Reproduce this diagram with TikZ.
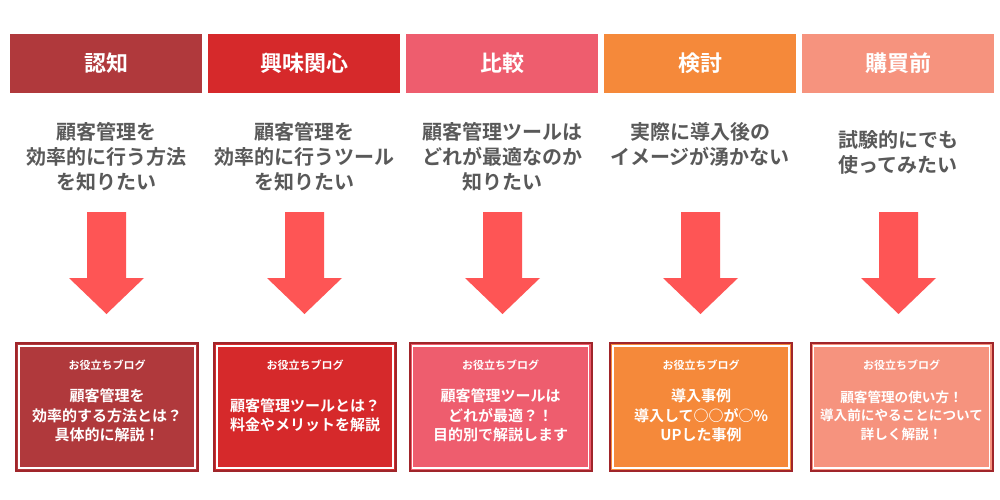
\documentclass[tikz,border=0pt]{standalone}
\usepackage{fontspec}
\setmainfont{Noto Sans CJK JP}[BoldFont={Noto Sans CJK JP Bold}]
\usepackage{xcolor}
\usepackage{tikz}
\definecolor{stageA}{HTML}{B0393C}
\definecolor{stageB}{HTML}{D6292B}
\definecolor{stageC}{HTML}{EE5D6E}
\definecolor{stageD}{HTML}{F5893A}
\definecolor{stageE}{HTML}{F6937E}
\definecolor{arrowred}{HTML}{FE5555}
\definecolor{askgray}{HTML}{595959}
\definecolor{boxedge}{HTML}{A0252A}

\begin{document}
\begin{tikzpicture}[x=1pt, y=-1pt, every node/.style={font=\bfseries, inner sep=0pt}, head/.style={minimum width=192, minimum height=59, text=white, font=\bfseries\fontsize{22}{26}\selectfont}, ask/.style={text=askgray, align=center, font=\bfseries\fontsize{20}{25}\selectfont}, blogbox/.style={draw=boxedge, line width=2pt, minimum width=182, minimum height=128}, blogtag/.style={text=white, font=\bfseries\fontsize{11}{13}\selectfont}, blogtitle/.style 2 args={text=white, align=center, font=\bfseries\fontsize{#1}{#2}\selectfont}]
  \path[use as bounding box, fill=white] (0,0) rectangle (1000,500);
  \foreach \i/\bx/\col/\head/\ask/\asky/\bs/\bl/\blog in {
      1/107/stageA/認知/{顧客管理を\\効率的に行う方法\\を知りたい}/157/15/19.5/{顧客管理を\\効率的する方法とは？\\具体的に解説！},
      2/305/stageB/興味関心/{顧客管理を\\効率的に行うツール\\を知りたい}/157/15/19.5/{顧客管理ツールとは？\\料金やメリットを解説},
      3/500.5/stageC/比較/{顧客管理ツールは\\どれが最適なのか\\知りたい}/157/15/19.5/{顧客管理ツールは\\どれが最適？！\\目的別で解説します},
      4/701/stageD/検討/{実際に導入後の\\イメージが湧かない}/144.5/15/19.5/{導入事例\\導入して○○が○\%\\UPした事例},
      5/901.5/stageE/購買前/{試験的にでも\\使ってみたい}/152.5/13.6/18.5/{顧客管理の使い方！\\導入前にやることについて\\詳しく解説！}}{
    \node[head, fill=\col] (h\i) at ({198*\i-92},63.5) {\head};
    \node[ask] (q\i) at ({198*\i-92},\asky) {\ask};
    % block arrow
    \coordinate (a\i) at ({198*\i-91.5},212);
    \fill[arrowred] (a\i) ++(-19.5,0) -- ++(39,0) -- ++(0,66) -- ++(18,0) -- ++(-37.5,36) -- ++(-37.5,-36) -- ++(18,0) -- cycle;
    \node[blogbox, fill=\col] (b\i) at (\bx,407) {};
    \draw[white, line width=1.5pt] ([shift={(4,4)}]b\i.north west) rectangle ([shift={(-4,-4)}]b\i.south east);
    \node[blogtag] (t\i) at (\bx,365) {お役立ちブログ};
    \node[blogtitle={\bs}{\bl}] (m\i) at (\bx,415.5) {\blog};
  }
\end{tikzpicture}
\end{document}
